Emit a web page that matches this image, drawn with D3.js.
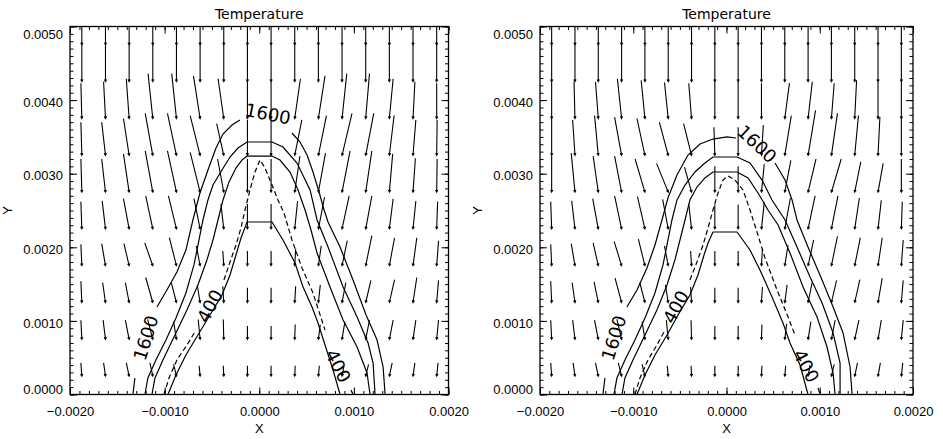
<!DOCTYPE html>
<html>
<head>
<meta charset="utf-8">
<script src="https://cdn.jsdelivr.net/npm/d3@7"></script>
<style>
  body { margin: 0; background: #fff; }
  svg { display: block; }
  text { fill: #000; }
</style>
</head>
<body>
<svg width="943" height="439"></svg>
<script>
// ---- data (lengths in mm, velocities in arbitrary units: 1 unit -> 0.1 mm arrow) ----
const xTicks = [-0.002, -0.001, 0, 0.001, 0.002];
const yTicks = [0, 0.001, 0.002, 0.003, 0.004, 0.005];
const titleText = "Temperature";

const gridX = [-1.875, -1.625, -1.375, -1.125, -0.875, -0.625, -0.375, -0.125,
               0.125, 0.375, 0.625, 0.875, 1.125, 1.375, 1.625, 1.875];
const gridY = [4.75, 4.25, 3.75, 3.25, 2.75, 2.25, 1.75, 1.25, 0.75, 0.25];

const leftU = [
  [0,0,0,0,0,0,0,0,0,0,0,0,0,0,0,0],
  [0,0,0,0,0,0,0,0,0,0,0,0,0,0,0,0],
  [0.1,0.2,0.3,0.5,0.5,0.7,0.6,0,0,-0.6,-0.7,-0.5,-0.4,-0.4,-0.2,0],
  [0.1,0.4,0.6,0.8,0.95,1.05,0.75,0,0,-0.75,-0.85,-1.05,-0.85,-0.5,-0.3,-0.05],
  [0.1,0.4,0.6,0.8,0.95,1.05,0.65,0,0,-0.55,-0.75,-0.85,-0.65,-0.35,-0.25,-0.05],
  [0.1,0.35,0.6,0.75,0.85,0.65,0.3,0,0,-0.3,-0.65,-0.75,-0.65,-0.4,-0.3,-0.1],
  [0.1,0.4,0.55,0.85,0.75,0.4,0.1,0,0,-0.1,-0.3,-0.55,-0.65,-0.55,-0.4,-0.2],
  [0.1,0.3,0.4,0.75,0.55,0.3,0.1,0,0,-0.1,-0.2,-0.4,-0.55,-0.55,-0.4,-0.2],
  [0.1,0.25,0.4,0.55,0.3,0.2,0.05,0,0,-0.05,-0.2,-0.3,-0.4,-0.4,-0.3,-0.2],
  [0.1,0.2,0.3,0.3,0.3,0.1,0.05,0,0,-0.05,-0.1,-0.2,-0.3,-0.3,-0.2,-0.15]
];
const leftV = [
  [-5.2,-5.2,-5.2,-5.2,-5.2,-5.2,-5.2,-5.2,-5.2,-5.2,-5.2,-5.2,-5.2,-5.2,-5.2,-5.2],
  [-5.0,-5.0,-5.0,-5.0,-5.0,-5.0,-5.0,-5.0,-5.0,-5.0,-5.0,-5.0,-5.0,-5.0,-5.0,-5.0],
  [-4.8,-5.0,-5.4,-6.1,-6.1,-5.8,-5.4,-5.0,-5.0,-5.4,-5.8,-6.1,-6.1,-5.4,-5.0,-4.8],
  [-4.5,-4.5,-5.0,-5.7,-5.7,-5.4,-4.3,-4.8,-4.8,-4.8,-5.4,-5.7,-5.7,-5.4,-4.8,-4.8],
  [-4.5,-4.5,-5.2,-5.6,-5.6,-5.4,-4.5,-4.5,-4.5,-4.9,-5.3,-5.6,-5.6,-5.2,-4.6,-4.5],
  [-3.7,-3.8,-4.1,-4.5,-4.5,-4.1,-3.4,-3.4,-3.4,-3.8,-4.3,-4.5,-4.5,-4.1,-3.8,-3.7],
  [-2.9,-3.0,-3.0,-3.1,-3.8,-2.7,-2.0,-2.0,-2.0,-2.3,-2.7,-3.4,-4.1,-3.8,-3.8,-3.4],
  [-2.9,-2.7,-2.7,-3.4,-2.7,-2.4,-2.2,-2.0,-2.0,-2.2,-2.4,-2.7,-3.0,-3.1,-3.4,-3.0],
  [-2.6,-2.6,-2.6,-2.7,-2.4,-2.7,-2.7,-1.8,-1.8,-2.0,-2.0,-2.4,-2.6,-2.6,-2.6,-2.6],
  [-1.8,-1.8,-1.8,-1.8,-1.6,-1.4,-1.4,-1.4,-1.4,-1.4,-1.4,-1.4,-1.6,-1.8,-1.8,-1.8]
];

const rightU = [
  [0,0,0,0,0,0,0,0,0,0,0,0,0,0,0,0],
  [0,0,0,0,0,0,0,0,0,0,0,0,0,0,0,0],
  [0,0.1,0.3,0.45,0.4,0.4,0.3,0,0,0,-0.5,-0.45,-0.3,-0.2,0,0],
  [0,0.25,0.4,0.75,0.85,0.95,0.85,0.1,0,-0.2,-0.7,-0.8,-0.65,-0.4,-0.2,0],
  [0,0.4,0.55,0.75,1.05,1.25,0.75,0,0,-0.3,-0.65,-0.85,-1.05,-0.65,-0.55,0],
  [0.1,0.35,0.6,0.75,0.8,0.6,0.3,0,0,-0.3,-0.6,-0.75,-0.7,-0.5,-0.35,-0.1],
  [0.1,0.4,0.55,0.8,0.7,0.4,0.1,0,0,-0.1,-0.35,-0.6,-0.65,-0.6,-0.45,-0.2],
  [0.1,0.3,0.45,0.7,0.55,0.3,0.1,0,0,-0.1,-0.25,-0.45,-0.55,-0.55,-0.45,-0.2],
  [0.1,0.25,0.4,0.5,0.3,0.2,0.05,0,0,-0.05,-0.2,-0.3,-0.4,-0.45,-0.35,-0.2],
  [0.1,0.2,0.3,0.35,0.3,0.1,0.05,0,0,-0.05,-0.1,-0.2,-0.3,-0.3,-0.25,-0.15]
];
const rightV = [
  [-5.2,-5.2,-5.2,-5.2,-5.2,-5.2,-5.2,-5.2,-5.2,-5.2,-5.2,-5.2,-5.2,-5.2,-5.2,-5.2],
  [-5.0,-5.0,-5.0,-5.0,-5.0,-5.0,-5.0,-5.0,-5.0,-5.0,-5.0,-5.0,-5.0,-5.0,-5.0,-5.0],
  [-5.0,-5.0,-5.0,-5.4,-5.2,-4.9,-4.8,-5.0,-5.0,-4.8,-4.8,-5.0,-4.8,-5.2,-5.0,-5.0],
  [-5.0,-4.8,-5.4,-5.2,-5.0,-4.5,-4.3,-3.8,-3.8,-4.1,-5.4,-6.1,-5.7,-5.4,-5.2,-5.0],
  [-4.9,-5.3,-4.9,-4.9,-4.5,-3.9,-3.4,-3.5,-3.5,-3.8,-4.3,-4.5,-4.5,-4.1,-3.9,-4.5],
  [-3.7,-3.8,-4.1,-4.5,-4.4,-4.0,-3.4,-3.3,-3.3,-3.6,-4.2,-4.5,-4.5,-4.2,-3.9,-3.7],
  [-2.9,-3.0,-3.1,-3.3,-3.6,-2.7,-2.0,-2.0,-2.0,-2.3,-2.8,-3.5,-4.0,-3.8,-3.8,-3.5],
  [-2.9,-2.7,-2.8,-3.3,-2.7,-2.4,-2.1,-2.0,-2.0,-2.1,-2.4,-2.8,-3.0,-3.1,-3.3,-3.0],
  [-2.6,-2.6,-2.6,-2.7,-2.4,-2.6,-2.6,-1.8,-1.8,-2.0,-2.1,-2.4,-2.6,-2.6,-2.6,-2.6],
  [-1.8,-1.8,-1.8,-1.8,-1.6,-1.4,-1.4,-1.4,-1.4,-1.4,-1.4,-1.5,-1.6,-1.8,-1.8,-1.8]
];

// contour lines, [x mm, y mm], split where labels sit
const leftContours = [
  {level: 1600, dashed: false, segs: [
    [[-1.335,0],[-1.314,0.224]],
    [[-1.081,1.189],[-0.976,1.420],[-0.870,1.664],[-0.775,1.963],[-0.701,2.371],[-0.627,2.738],
     [-0.542,3.050],[-0.457,3.349],[-0.383,3.539],[-0.288,3.662],[-0.204,3.730]],
    [[0.346,3.553],[0.431,3.431],[0.505,3.254],[0.568,3.023],[0.632,2.751],[0.685,2.507],[0.727,2.344],
     [0.854,2.004],[0.991,1.556],[1.129,1.080],[1.245,0.740],[1.309,0.374],[1.330,0]]
  ]},
  {level: 1200, dashed: false, segs: [
    [[-1.208,0],[-1.177,0.224],[-1.092,0.469],[-0.986,0.740],[-0.880,1.039],[-0.775,1.379],[-0.690,1.760],
     [-0.637,2.099],[-0.595,2.371],[-0.542,2.643],[-0.489,2.846],[-0.394,3.050],[-0.309,3.227],[-0.225,3.349],
     [-0.129,3.431],[0.135,3.431],[0.251,3.363],[0.399,3.145],[0.537,2.779],[0.611,2.371],[0.727,2.004],
     [0.886,1.461],[1.034,1.053],[1.150,0.700],[1.203,0.428],[1.224,0]]
  ]},
  {level: 800, dashed: false, segs: [
    [[-1.134,0],[-1.102,0.224],[-1.018,0.469],[-0.891,0.808],[-0.764,1.148],[-0.648,1.488],[-0.553,1.828],
     [-0.489,2.099],[-0.436,2.371],[-0.383,2.643],[-0.320,2.887],[-0.246,3.077],[-0.182,3.186],[-0.129,3.240],
     [0.135,3.240],[0.219,3.186],[0.325,3.023],[0.410,2.779],[0.484,2.507],[0.547,2.235],[0.611,1.923],
     [0.748,1.461],[0.886,1.012],[1.034,0.645],[1.139,0.292],[1.171,0]]
  ]},
  {level: 400, dashed: true, segs: [
    [[-1.007,0],[-0.954,0.224],[-0.870,0.469],[-0.764,0.673],[-0.680,0.849]],
    [[-0.373,1.556],[-0.309,1.800],[-0.246,2.031],[-0.193,2.262],[-0.150,2.507],[-0.098,2.779],[-0.045,3.023],
     [0.008,3.186],[0.061,3.077],[0.135,2.846],[0.198,2.643],[0.262,2.466],[0.346,2.099],[0.452,1.719],
     [0.568,1.379],[0.695,0.876]],
    [[0.970,0.061],[0.991,0]]
  ]},
  {level: 0, dashed: false, segs: [
    [[-0.965,0],[-0.880,0.265],[-0.775,0.537],[-0.648,0.808],[-0.521,1.080],[-0.394,1.352],[-0.309,1.624],
     [-0.246,1.895],[-0.193,2.126],[-0.129,2.344],[0.135,2.344],[0.251,2.099],[0.378,1.787],[0.463,1.461],
     [0.558,1.189],[0.621,0.971],[0.695,0.673],[0.780,0.333],[0.854,0]]
  ]}
];
const rightContours = [
  {level: 1600, dashed: false, segs: [
    [[-1.325,0],[-1.304,0.224]],
    [[-1.068,1.189],[-0.960,1.420],[-0.853,1.719],[-0.767,2.031],[-0.692,2.371],[-0.628,2.670],[-0.531,2.982],
     [-0.413,3.254],[-0.284,3.404],[-0.145,3.471],[0.005,3.499],[0.102,3.485]],
    [[0.520,3.145],[0.628,2.914],[0.703,2.643],[0.756,2.371],[0.874,2.004],[1.025,1.556],[1.143,1.189],
     [1.250,0.836],[1.325,0.374],[1.347,0]]
  ]},
  {level: 1200, dashed: false, segs: [
    [[-1.207,0],[-1.175,0.224],[-1.089,0.469],[-0.982,0.740],[-0.874,1.039],[-0.767,1.379],[-0.681,1.760],
     [-0.628,2.099],[-0.585,2.371],[-0.531,2.643],[-0.445,2.846],[-0.338,3.023],[-0.231,3.145],[-0.145,3.227],
     [0.113,3.227],[0.252,3.145],[0.381,2.914],[0.488,2.643],[0.628,2.371],[0.756,2.004],[0.896,1.596],
     [1.025,1.243],[1.143,0.836],[1.218,0.428],[1.218,0]]
  ]},
  {level: 800, dashed: false, segs: [
    [[-1.121,0],[-1.089,0.224],[-1.003,0.469],[-0.874,0.808],[-0.746,1.148],[-0.638,1.488],[-0.553,1.828],
     [-0.499,2.099],[-0.445,2.371],[-0.392,2.643],[-0.317,2.819],[-0.231,2.942],[-0.145,3.023],[0.113,3.023],
     [0.231,2.942],[0.338,2.738],[0.445,2.507],[0.553,2.303],[0.681,1.923],[0.821,1.461],[0.971,1.053],
     [1.078,0.645],[1.143,0.292],[1.164,0]]
  ]},
  {level: 400, dashed: true, segs: [
    [[-0.982,0],[-0.928,0.224],[-0.842,0.469],[-0.746,0.673],[-0.671,0.849]],
    [[-0.392,1.556],[-0.317,1.800],[-0.252,2.031],[-0.198,2.262],[-0.145,2.507],[-0.091,2.738],[-0.038,2.914],
     [0.016,2.969],[0.091,2.914],[0.177,2.779],[0.252,2.507],[0.327,2.208],[0.413,1.855],[0.542,1.420],
     [0.660,1.053],[0.735,0.808]],
    [[0.982,0.088],[1.003,0]]
  ]},
  {level: 0, dashed: false, segs: [
    [[-0.960,0],[-0.874,0.265],[-0.767,0.537],[-0.638,0.808],[-0.520,1.080],[-0.392,1.352],[-0.306,1.624],
     [-0.241,1.895],[-0.198,2.058],[-0.145,2.208],[0.113,2.208],[0.252,1.963],[0.359,1.692],[0.488,1.325],
     [0.606,0.971],[0.681,0.700],[0.789,0.401],[0.874,0]]
  ]}
];

const leftLabels = [
  {text: "1600", x: -1.198, y: 0.768, angle: -73},
  {text: "1600", x: 0.092, y: 3.811, angle: 11},
  {text: "400", x: -0.521, y: 1.202, angle: -62},
  {text: "400", x: 0.833, y: 0.387, angle: 63}
];
const rightLabels = [
  {text: "1600", x: -1.207, y: 0.768, angle: -73},
  {text: "1600", x: 0.327, y: 3.404, angle: 43},
  {text: "400", x: -0.542, y: 1.189, angle: -62},
  {text: "400", x: 0.853, y: 0.387, angle: 62}
];

// ---- drawing ----
const svg = d3.select("svg");
const plotTop = 26.5, plotBottom = 394.5;
const panels = [
  {left: 70, right: 448.5, u: leftU, v: leftV, contours: leftContours, labels: leftLabels},
  {left: 540, right: 913, u: rightU, v: rightV, contours: rightContours, labels: rightLabels}
];
const mm = 1e-3;
const arrowScale = 1e-4;
const tickFont = "'Liberation Sans', Arial, sans-serif";

panels.forEach((p, k) => {
  const x = d3.scaleLinear().domain([-0.002, 0.002]).range([p.left, p.right]);
  const y = d3.scaleLinear().domain([0, 0.005]).range([plotBottom, plotTop]);
  const minorX = d3.range(-20, 21).map(d => d * 1e-4);
  const minorY = d3.range(0, 51).map(d => d * 1e-4);

  svg.append("clipPath").attr("id", "clip" + k)
    .append("rect")
    .attr("x", p.left).attr("y", plotTop)
    .attr("width", p.right - p.left).attr("height", plotBottom - plotTop);

  const g = svg.append("g");
  const plot = g.append("g").attr("clip-path", `url(#clip${k})`);

  // velocity arrows: head sits on the grid point
  const arrows = [];
  gridY.forEach((gy, j) => gridX.forEach((gx, i) => {
    arrows.push({hx: gx * mm, hy: gy * mm, u: p.u[j][i], v: p.v[j][i]});
  }));
  const ag = plot.append("g").attr("stroke", "#000").attr("stroke-width", 1.1).attr("fill", "none");
  ag.selectAll("path.arrow").data(arrows).enter().append("path")
    .attr("class", "arrow")
    .attr("d", d => {
      const x1 = x(d.hx), y1 = y(d.hy);
      const x0 = x(d.hx - d.u * arrowScale), y0 = y(d.hy - d.v * arrowScale);
      const a = Math.atan2(y1 - y0, x1 - x0);
      const h = 2.4;
      const l = [x1 - h * Math.cos(a - 0.5), y1 - h * Math.sin(a - 0.5)];
      const r = [x1 - h * Math.cos(a + 0.5), y1 - h * Math.sin(a + 0.5)];
      return `M${x0},${y0}L${x1},${y1}M${l[0]},${l[1]}L${x1},${y1}L${r[0]},${r[1]}`;
    });

  // contours
  const line = d3.line().x(d => x(d[0] * mm)).y(d => y(d[1] * mm));
  p.contours.forEach(c => {
    plot.selectAll(null).data(c.segs).enter().append("path")
      .attr("d", line)
      .attr("fill", "none")
      .attr("stroke", "#000")
      .attr("stroke-width", 1.2)
      .attr("stroke-dasharray", c.dashed ? "5,3" : null);
  });

  // contour labels
  g.selectAll("text.clab").data(p.labels).enter().append("text")
    .attr("class", "clab")
    .attr("transform", d => `translate(${x(d.x * mm)},${y(d.y * mm)}) rotate(${d.angle})`)
    .attr("text-anchor", "middle")
    .attr("dy", "0.35em")
    .style("font-family", "'DejaVu Sans', sans-serif")
    .style("font-size", "18px")
    .text(d => d.text);

  // axes: minor ticks on all sides, major ticks with labels on bottom/left
  const fmt = d3.format(".4f");
  const addAxis = (axis, tr) => {
    const a = g.append("g").attr("transform", tr).call(axis);
    a.select(".domain").remove();
    a.selectAll("line").attr("stroke", "#000").attr("stroke-width", 1);
    return a;
  };
  addAxis(d3.axisBottom(x).tickValues(minorX).tickSize(-3.5).tickFormat(""), `translate(0,${plotBottom})`);
  addAxis(d3.axisTop(x).tickValues(minorX).tickSize(-3.5).tickFormat(""), `translate(0,${plotTop})`);
  addAxis(d3.axisLeft(y).tickValues(minorY).tickSize(-3.5).tickFormat(""), `translate(${p.left},0)`);
  addAxis(d3.axisRight(y).tickValues(minorY).tickSize(-3.5).tickFormat(""), `translate(${p.right},0)`);
  addAxis(d3.axisTop(x).tickValues(xTicks).tickSize(-7).tickFormat(""), `translate(0,${plotTop})`);
  addAxis(d3.axisRight(y).tickValues(yTicks).tickSize(-7).tickFormat(""), `translate(${p.right},0)`);

  const xa = addAxis(d3.axisBottom(x).tickValues(xTicks).tickSize(-7).tickPadding(12).tickFormat(fmt),
    `translate(0,${plotBottom})`);
  xa.selectAll("text").style("font-family", tickFont).style("font-size", "13px").attr("fill", "#000");
  const ya = addAxis(d3.axisLeft(y).tickValues(yTicks).tickSize(-7).tickPadding(7).tickFormat(fmt),
    `translate(${p.left},0)`);
  ya.selectAll("text").style("font-family", tickFont).style("font-size", "13px").attr("fill", "#000")
    .attr("y", d => d === 0 ? -5 : d === 0.005 ? 8 : 2);

  // frame
  g.append("rect")
    .attr("x", p.left).attr("y", plotTop)
    .attr("width", p.right - p.left).attr("height", plotBottom - plotTop)
    .attr("fill", "none").attr("stroke", "#000").attr("stroke-width", 1.3);

  // titles
  const cx = (p.left + p.right) / 2;
  g.append("text").attr("x", cx).attr("y", 19).attr("text-anchor", "middle")
    .style("font-family", "'DejaVu Sans', sans-serif").style("font-size", "14px")
    .text(titleText);
  g.append("text").attr("x", cx).attr("y", 433).attr("text-anchor", "middle")
    .style("font-family", tickFont).style("font-size", "13px")
    .text("X");
  g.append("text").attr("transform", `translate(${p.left - 58},${(plotTop + plotBottom) / 2}) rotate(-90)`)
    .attr("text-anchor", "middle")
    .style("font-family", tickFont).style("font-size", "13px")
    .text("Y");
});
</script>
</body>
</html>
